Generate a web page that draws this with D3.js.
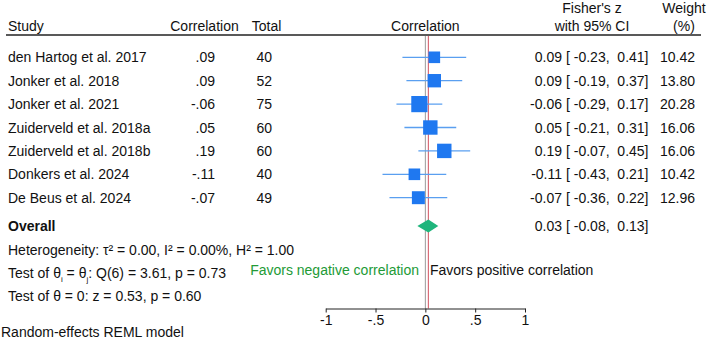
<!DOCTYPE html>
<html>
<head>
<meta charset="utf-8">
<script src="https://cdn.jsdelivr.net/npm/d3@7"></script>
<style>
	body { margin: 0; background: #fff; }
	svg { display: block; font-family: "Liberation Sans", Arial, Helvetica, sans-serif; }
</style>
</head>
<body>
<svg></svg>
<script>
// forest plot data
var studies = ['den Hartog et al. 2017', 'Jonker et al. 2018', 'Jonker et al. 2021',
	'Zuiderveld et al. 2018a', 'Zuiderveld et al. 2018b', 'Donkers et al. 2024', 'De Beus et al. 2024'];
var corrLabels = ['.09', '.09', '-.06', '.05', '.19', '-.11', '-.07'];
var totals = [40, 52, 75, 60, 60, 40, 49];
var zEst = [0.09, 0.09, -0.06, 0.05, 0.19, -0.11, -0.07];
var zLow = [-0.23, -0.19, -0.29, -0.21, -0.07, -0.43, -0.36];
var zHigh = [0.41, 0.37, 0.17, 0.31, 0.45, 0.21, 0.22];
var weights = [10.42, 13.80, 20.28, 16.06, 16.06, 10.42, 12.96];
var overall = [0.03, -0.08, 0.13];
var axisTicks = [-1, -0.5, 0, 0.5, 1];
var axisLabels = ['-1', '-.5', '0', '.5', '1'];

var W = 709, H = 356;
var svg = d3.select('svg').attr('width', W).attr('height', H);

var x = d3.scaleLinear().domain([-1, 1]).range([325.7, 525]);
var y = d3.scaleLinear().domain([0, 1]).range([57.3, 80.7]); // row index -> y
var size = d3.scaleSqrt().domain([0, 20.28]).range([0, 16.2]);
// plain hyphen instead of d3's unicode minus
var fmt = function(v) { return d3.format('.2f')(v).replace('\u2212', '-'); };

var fs = 14;
function txt(g, xx, yy, s, anchor) {
	return g.append('text')
		.attr('x', xx).attr('y', yy)
		.attr('dy', '0.36em')
		.attr('text-anchor', anchor || 'start')
		.style('font-size', fs + 'px')
		.style('fill', '#111')
		.text(s);
}

// header
txt(svg, 8, 25.7, 'Study');
txt(svg, 204.5, 25.7, 'Correlation', 'middle');
txt(svg, 266.5, 25.7, 'Total', 'middle');
txt(svg, x(0), 25.7, 'Correlation', 'middle');
txt(svg, 592, 8, "Fisher's z", 'middle');
txt(svg, 592, 25.7, 'with 95% CI', 'middle');
txt(svg, 684, 8, 'Weight', 'middle');
txt(svg, 684, 25.7, '(%)', 'middle');

svg.append('line')
	.attr('x1', 6).attr('x2', 701)
	.attr('y1', 35).attr('y2', 35)
	.style('stroke', '#222').style('stroke-width', 1.3);

// reference lines: zero and overall effect
svg.append('line')
	.attr('x1', x(0)).attr('x2', x(0))
	.attr('y1', 36).attr('y2', 308.5)
	.style('stroke', '#9a9a9a').style('stroke-width', 1);
svg.append('line')
	.attr('x1', x(overall[0])).attr('x2', x(overall[0]))
	.attr('y1', 36).attr('y2', 308.5)
	.style('stroke', '#d2505e').style('stroke-width', 1);

// study rows
var rows = svg.selectAll('g.row')
	.data(studies)
	.enter()
	.append('g')
		.attr('class', 'row');

rows.each(function(d, i) {
	var g = d3.select(this);
	var yy = y(i);
	txt(g, 8, yy, d);
	txt(g, 215, yy, corrLabels[i], 'end');
	txt(g, 272, yy, totals[i], 'end');
	txt(g, 562, yy, fmt(zEst[i]), 'end');
	txt(g, 566, yy, '[ ' + fmt(zLow[i]) + ',  ' + fmt(zHigh[i]) + ']')
		.attr('xml:space', 'preserve');
	txt(g, 695, yy, fmt(weights[i]), 'end');

	g.append('line')
		.attr('x1', x(zLow[i])).attr('x2', x(zHigh[i]))
		.attr('y1', yy).attr('y2', yy)
		.style('stroke', '#5a9ff0').style('stroke-width', 1.3);
	var s = size(weights[i]);
	g.append('rect')
		.attr('x', x(zEst[i]) - s / 2).attr('y', yy - s / 2)
		.attr('width', s).attr('height', s)
		.style('fill', '#1f78f0');
});

// overall row
var yo = 226;
txt(svg, 8, yo, 'Overall').style('font-weight', 'bold');
txt(svg, 562, yo, fmt(overall[0]), 'end');
txt(svg, 566, yo, '[ ' + fmt(overall[1]) + ',  ' + fmt(overall[2]) + ']')
	.attr('xml:space', 'preserve');
svg.append('polygon')
	.attr('points', [
		[x(overall[1]), yo],
		[x(overall[0]), yo - 6.5],
		[x(overall[2]), yo],
		[x(overall[0]), yo + 6.5]
	].join(' '))
	.style('fill', '#1fb57c');

// stats text
txt(svg, 8, 250, 'Heterogeneity: τ² = 0.00, I² = 0.00%, H² = 1.00');

var q = txt(svg, 8, 272.5, '');
q.append('tspan').text('Test of θ');
q.append('tspan').attr('dy', 4).style('font-size', '8px').text('i');
q.append('tspan').attr('dy', -4).text(' = θ');
q.append('tspan').attr('dy', 4).style('font-size', '8px').text('j');
q.append('tspan').attr('dy', -4).text(': Q(6) = 3.61, p = 0.73');

txt(svg, 8, 296, 'Test of θ = 0: z = 0.53, p = 0.60');

txt(svg, 419, 269.5, 'Favors negative correlation', 'end').style('fill', '#229a36');
txt(svg, 430, 269.5, 'Favors positive correlation');

// axis
var axis = svg.append('g')
	.attr('transform', 'translate(0,308.5)')
	.call(d3.axisBottom(x)
		.tickValues(axisTicks)
		.tickFormat(function(d, i) { return axisLabels[i]; })
		.tickSize(4)
		.tickSizeOuter(0));
axis.select('.domain').style('stroke', '#222');
axis.selectAll('.tick line').style('stroke', '#222');
axis.selectAll('.tick text')
	.attr('y', 7)
	.style('font-size', fs + 'px')
	.style('font-family', '"Liberation Sans", Arial, sans-serif')
	.style('fill', '#111');

txt(svg, 1, 332, 'Random-effects REML model');
</script>
</body>
</html>
